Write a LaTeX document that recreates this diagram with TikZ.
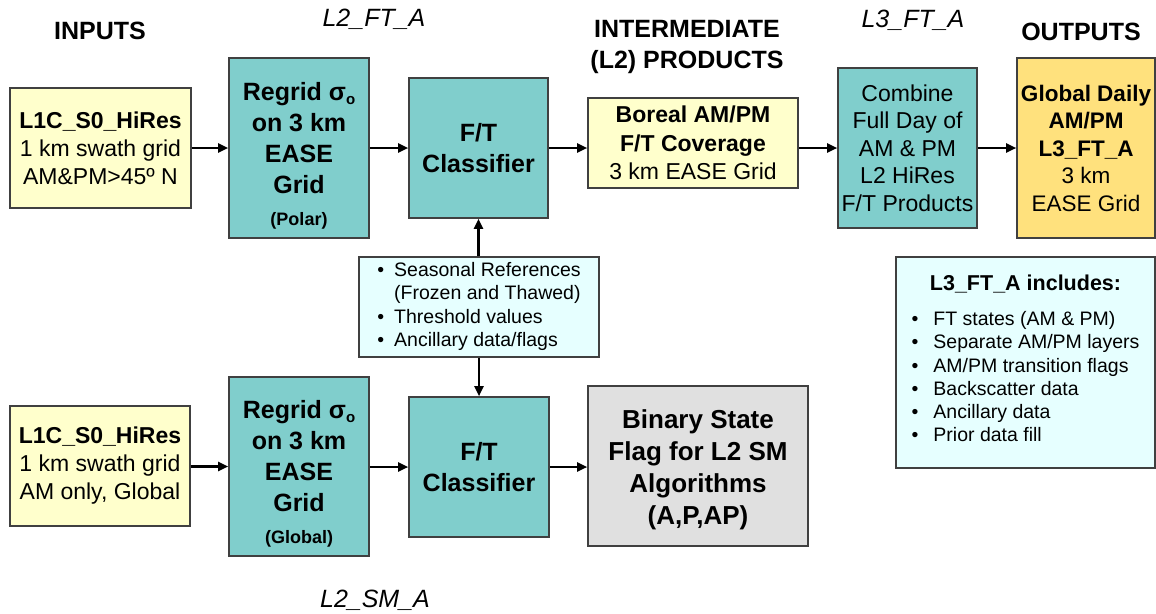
\documentclass[tikz,border=0pt]{standalone}
\usepackage{fontspec}
\setmainfont{Liberation Sans}
\usetikzlibrary{arrows.meta}

\definecolor{paleyellow}{RGB}{255,255,204}
\definecolor{tealbox}{RGB}{128,206,204}
\definecolor{goldbox}{RGB}{255,225,125}
\definecolor{palecyan}{RGB}{230,255,255}
\definecolor{greybox}{RGB}{224,224,224}
\definecolor{edge}{RGB}{64,64,64}

\newcommand{\fs}[2]{\fontsize{#1}{#2}\selectfont}
\newcommand{\sigmao}{σ\raisebox{-4pt}{\fs{15}{15}o}}
% invisible strut that pushes a text block down inside its box
\newcommand{\topgap}[1]{\rule{0pt}{#1}}

\tikzset{
  box/.style={draw=edge, line width=1.6pt, rectangle, align=center, inner sep=2pt},
  inbox/.style={box, fill=paleyellow},
  procbox/.style={box, fill=tealbox},
  outbox/.style={box, fill=goldbox},
  infobox/.style={box, fill=palecyan},
  flagbox/.style={box, fill=greybox},
  heading/.style={font=\bfseries\fs{25}{31}, align=center},
  prodname/.style={font=\itshape\fs{25}{30}},
  flow/.style={line width=2.2pt, -{Triangle[length=10pt,width=9pt]}}
}

\begin{document}
\begin{tikzpicture}[x=1pt,y=-1pt]
\useasboundingbox (0,0) rectangle (1156,613);

% column headings and product names
\node[heading] (hin) at (100,31) {INPUTS};
\node[heading] (hmid) at (687,47) {INTERMEDIATE\\(L2) PRODUCTS};
\node[heading] (hout) at (1081,32) {OUTPUTS};
\node[prodname] (pl2ft) at (374,19) {L2\_FT\_A};
\node[prodname] (pl3ft) at (913,20) {L3\_FT\_A};
\node[prodname] (pl2sm) at (375,600) {L2\_SM\_A};

% upper (polar) chain
\node[inbox, font=\fs{23}{28}, minimum width=181pt, minimum height=120pt] (in1) at (100.5,148)
  {\textbf{L1C\_S0\_HiRes}\\1 km swath grid\\AM\&PM>45º N};
\node[procbox, font=\bfseries\fs{25}{31}, minimum width=140pt, minimum height=180pt] (rg1) at (299,148)
  {\topgap{33pt}Regrid \sigmao\\on 3 km\\EASE\\Grid\\[1pt]{\fs{18}{22}(Polar)}};
\node[procbox, font=\bfseries\fs{25}{31}, minimum width=139pt, minimum height=140pt] (ft1) at (478.5,148)
  {F/T\\Classifier};
\node[inbox, font=\fs{23}{28.5}, minimum width=210pt, minimum height=90pt] (bor) at (693,143)
  {\textbf{Boreal AM/PM}\\\textbf{F/T Coverage}\\3 km EASE Grid};
\node[procbox, font=\fs{23}{27.5}, minimum width=139pt, minimum height=160pt] (cmb) at (907.5,148)
  {Combine\\Full Day of\\AM \& PM\\L2 HiRes\\F/T Products};
\node[outbox, font=\fs{22.5}{27.5}, minimum width=138pt, minimum height=180pt] (out) at (1086,148)
  {\textbf{Global Daily}\\\textbf{AM/PM}\\\textbf{L3\_FT\_A}\\3 km\\EASE Grid};

% shared reference data
\node[infobox, font=\fs{19.5}{23.5}, minimum width=240pt, minimum height=100pt] (sea) at (479,307)
  {\begin{tabular}{@{}l@{\hspace{10pt}}l@{}}
   • & Seasonal References\\
     & (Frozen and Thawed)\\
   • & Threshold values\\
   • & Ancillary data/flags
   \end{tabular}};

% lower (global) chain
\node[inbox, font=\fs{23}{28}, minimum width=180pt, minimum height=120pt] (in2) at (100,466)
  {\textbf{L1C\_S0\_HiRes}\\1 km swath grid\\AM only, Global};
\node[procbox, font=\bfseries\fs{25}{31}, minimum width=140pt, minimum height=179pt] (rg2) at (299,466.5)
  {\topgap{33pt}Regrid \sigmao\\on 3 km\\EASE\\Grid\\[1pt]{\fs{18}{22}(Global)}};
\node[procbox, font=\bfseries\fs{25}{31}, minimum width=140pt, minimum height=140pt] (ft2) at (479,467)
  {F/T\\Classifier};
\node[flagbox, font=\bfseries\fs{26}{32}, minimum width=220pt, minimum height=160pt] (bin) at (698,466)
  {\topgap{27pt}Binary State\\Flag for L2 SM\\Algorithms\\(A,P,AP)};

% contents of the output product
\node[infobox, font=\fs{19.5}{23.2}, minimum width=259pt, minimum height=211pt] (inc) at (1025.5,362.5)
  {\begin{tabular}{@{}l@{\hspace{15pt}}l@{}}
   \multicolumn{2}{c}{\bfseries\fs{21.5}{26}L3\_FT\_A includes:}\\[12pt]
   • & FT states (AM \& PM)\\
   • & Separate AM/PM layers\\
   • & AM/PM transition flags\\
   • & Backscatter data\\
   • & Ancillary data\\
   • & Prior data fill\\[2pt]
   \end{tabular}};

% connectors
\draw[flow] (in1) -- (rg1);
\draw[flow] (rg1) -- (ft1);
\draw[flow] (ft1.east) -- (ft1.east -| bor.west);
\draw[flow] (bor.east |- cmb.west) -- (cmb.west);
\draw[flow] (cmb) -- (out);
\draw[flow] (sea.north -| ft1.south) -- (ft1.south);
\draw[flow] (sea.south -| ft2.north) -- (ft2.north);
\draw[flow] (in2.east |- rg2.west) -- (rg2.west);
\draw[flow] (rg2.east |- ft2.west) -- (ft2.west);
\draw[flow] (ft2.east) -- (ft2.east -| bin.west);
\end{tikzpicture}
\end{document}
